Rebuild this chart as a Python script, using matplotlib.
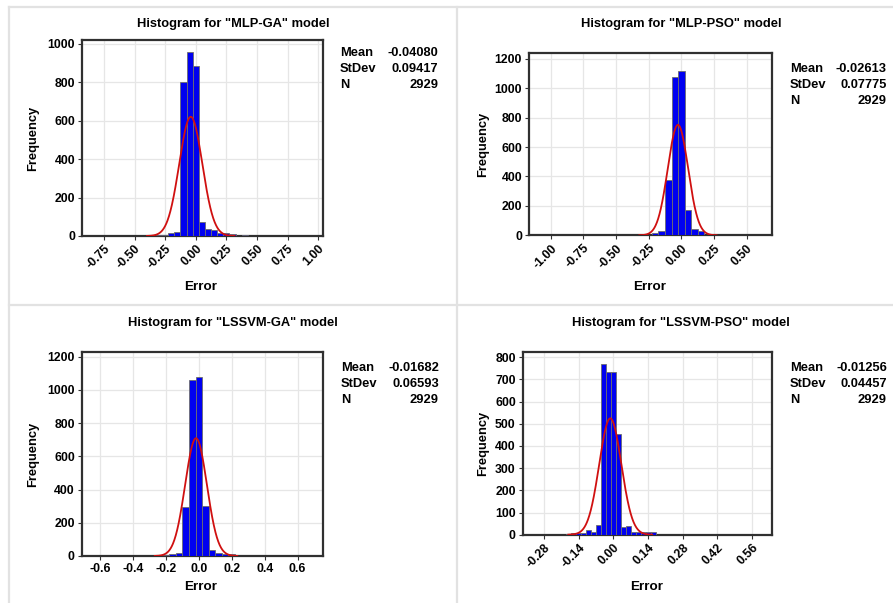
import numpy as np
import matplotlib
matplotlib.use("Agg")
import matplotlib.pyplot as plt
from matplotlib.lines import Line2D

plt.rcParams['font.family'] = ['Liberation Sans', 'DejaVu Sans']
plt.rcParams['font.weight'] = 'bold'

titles = ['Histogram for "MLP-GA" model', 'Histogram for "MLP-PSO" model',
          'Histogram for "LSSVM-GA" model', 'Histogram for "LSSVM-PSO" model']

# Histogram data (bin centres, counts, bin width)
mlp_ga_centers = [-0.30, -0.25, -0.20, -0.15, -0.10, -0.05, 0.00, 0.05, 0.10, 0.15, 0.20, 0.25, 0.30, 0.35, 0.40]
mlp_ga_counts = [3, 5, 17, 22, 800, 960, 885, 72, 35, 31, 17, 15, 8, 0, 4]
mlp_ga_width = 0.05

mlp_pso_centers = [-0.25, -0.20, -0.15, -0.10, -0.05, 0.00, 0.05, 0.10, 0.15, 0.20, 0.25, 0.30, 0.35]
mlp_pso_counts = [3, 14, 26, 378, 1080, 1120, 175, 40, 28, 5, 4, 4, 4]
mlp_pso_width = 0.05

lssvm_ga_centers = [-0.40, -0.36, -0.32, -0.28, -0.24, -0.20, -0.16, -0.12, -0.08, -0.04, 0.00, 0.04, 0.08, 0.12, 0.16, 0.20, 0.24, 0.28]
lssvm_ga_counts = [2, 0, 0, 0, 2, 5, 15, 20, 292, 1060, 1080, 302, 38, 20, 15, 10, 3, 2]
lssvm_ga_width = 0.04

lssvm_pso_centers = [-0.18, -0.16, -0.14, -0.12, -0.10, -0.08, -0.06, -0.04, -0.02, 0.00, 0.02, 0.04, 0.06, 0.08, 0.10, 0.12, 0.14, 0.16]
lssvm_pso_counts = [5, 8, 8, 6, 21, 12, 44, 770, 732, 732, 455, 36, 39, 14, 10, 10, 10, 10]
lssvm_pso_width = 0.02

means = [-0.04080, -0.02613, -0.01682, -0.01256]
stdevs = [0.09417, 0.07775, 0.06593, 0.04457]
ns = [2929, 2929, 2929, 2929]

xticks_list = [[-0.75, -0.50, -0.25, 0.00, 0.25, 0.50, 0.75, 1.00],
               [-1.00, -0.75, -0.50, -0.25, 0.00, 0.25, 0.50],
               [-0.6, -0.4, -0.2, 0.0, 0.2, 0.4, 0.6],
               [-0.28, -0.14, 0.00, 0.14, 0.28, 0.42, 0.56]]
xtick_fmt = ['{:.2f}', '{:.2f}', '{:.1f}', '{:.2f}']
yticks_list = [[0, 200, 400, 600, 800, 1000],
               [0, 200, 400, 600, 800, 1000, 1200],
               [0, 200, 400, 600, 800, 1000, 1200],
               [0, 100, 200, 300, 400, 500, 600, 700, 800]]
xlims = [(-0.93, 1.04), (-1.166, 0.696), (-0.711, 0.756), (-0.366, 0.64)]
ylims = [(0, 1020), (0, 1238), (0, 1226), (0, 822)]
rotations = [45, 45, 0, 45]

hist_data = [(mlp_ga_centers, mlp_ga_counts, mlp_ga_width),
             (mlp_pso_centers, mlp_pso_counts, mlp_pso_width),
             (lssvm_ga_centers, lssvm_ga_counts, lssvm_ga_width),
             (lssvm_pso_centers, lssvm_pso_counts, lssvm_pso_width)]

W, H = 893, 603
fig = plt.figure(figsize=(W / 100, H / 100), dpi=100)
fig.patch.set_facecolor('white')

def px(l, r, t, b):
    return [l / W, 1 - b / H, (r - l) / W, (b - t) / H]

axes_px = [(82, 323, 40, 236), (529, 772.3, 53.3, 235.3),
           (81.7, 323.3, 352.3, 556), (522.7, 772, 352.3, 534.7)]
title_pos = [(233, 24), (681, 24), (233, 323), (681, 323)]
stats_pos = [(340, 53, 438), (790, 69, 887), (341, 368, 439), (790, 368, 887)]
xlabel_pos = [(201, 287), (650, 287), (201, 587), (647, 587)]
ylabel_x = [33, 483, 33, 483]

FS = 9.3

# panel borders
bc = '#e2e2e2'
for (x0, y0, x1, y1) in [(9, 7, 893, 7), (9, 305, 893, 305), (9, 7, 9, 603), (457, 7, 457, 603)]:
    fig.add_artist(Line2D([x0 / W, x1 / W], [1 - y0 / H, 1 - y1 / H], color=bc, lw=1.6))

for i in range(4):
    ax = fig.add_axes(px(*axes_px[i]))
    centers, counts, width = hist_data[i]
    ax.bar(centers, counts, width=width, color='#0000f0', edgecolor='#6e6e6e',
           linewidth=0.6, zorder=3)
    mu, sd, n = means[i], stdevs[i], ns[i]
    xs = np.linspace(mu - 3.8 * sd, mu + 3.8 * sd, 300)
    ys = n * width / (sd * np.sqrt(2 * np.pi)) * np.exp(-0.5 * ((xs - mu) / sd) ** 2)
    ax.plot(xs, ys, color='#d01010', lw=1.3, zorder=4)
    ax.set_xlim(*xlims[i])
    ax.set_ylim(*ylims[i])
    ax.set_xticks(xticks_list[i])
    if rotations[i]:
        ax.set_xticklabels([xtick_fmt[i].format(v) for v in xticks_list[i]],
                           rotation=45, ha='right', va='top', rotation_mode='anchor')
    else:
        ax.set_xticklabels([xtick_fmt[i].format(v) for v in xticks_list[i]])
    ax.set_yticks(yticks_list[i])
    ax.tick_params(labelsize=8.8, length=3, width=0.8, color='#333333', pad=2)
    for lab in ax.get_xticklabels() + ax.get_yticklabels():
        lab.set_fontweight('bold')
    ax.grid(True, color='#e6e6e6', lw=0.9, zorder=0)
    ax.set_axisbelow(True)
    for s in ax.spines.values():
        s.set_linewidth(1.6)
        s.set_color('#303030')
    # title
    tx, ty = title_pos[i]
    fig.text(tx / W, 1 - ty / H, titles[i], ha='center', va='center',
             fontsize=FS, fontweight='bold')
    # axis labels
    lx, ly = xlabel_pos[i]
    fig.text(lx / W, 1 - ly / H, 'Error', ha='center', va='center',
             fontsize=FS + 0.4, fontweight='bold')
    l, r, t, b = axes_px[i]
    fig.text(ylabel_x[i] / W, 1 - ((t + b) / 2) / H, 'Frequency', ha='center',
             va='center', rotation=90, fontsize=FS, fontweight='bold')
    # stats
    sx, sy, rx = stats_pos[i]
    labels = ['Mean', 'StDev', 'N']
    vals = ['{:.5f}'.format(mu), '{:.5f}'.format(sd), '{}'.format(n)]
    for k in range(3):
        yy = 1 - (sy + 16 * k) / H
        fig.text(sx / W, yy, labels[k], ha='left', va='center', fontsize=FS,
                 fontweight='bold')
        fig.text(rx / W, yy, vals[k], ha='right', va='center', fontsize=FS,
                 fontweight='bold')

fig.savefig('out.png', dpi=100, facecolor='white')
